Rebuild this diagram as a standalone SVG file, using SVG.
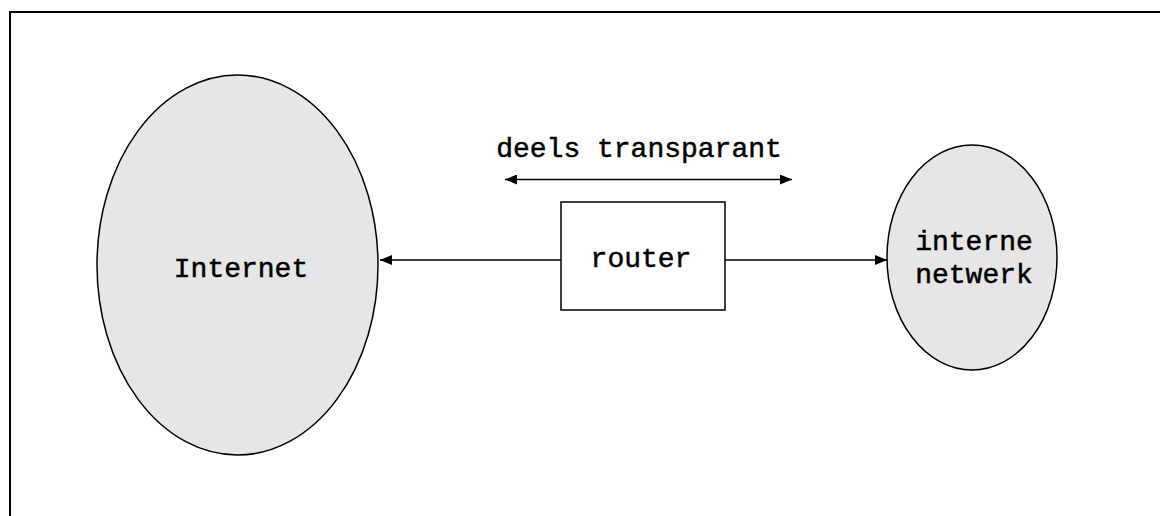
<svg xmlns="http://www.w3.org/2000/svg" width="1160" height="516" viewBox="0 0 1160 516">
<style>
.node{fill:#e6e6e6;stroke:#000;stroke-width:1.5}
.box{fill:#fff;stroke:#000;stroke-width:1.5}
.lbl{font-family:"Liberation Mono","Courier New",monospace;font-size:28px;fill:#000;text-anchor:middle;stroke:#000;stroke-width:0.5}
.edge{stroke:#000;stroke-width:1.5;fill:none}
</style>
<defs>
<marker id="ah" viewBox="0 0 12 10" refX="12" refY="5" markerWidth="12" markerHeight="10" markerUnits="userSpaceOnUse" orient="auto-start-reverse">
<path d="M0,0 L12,5 L0,10 Z" fill="#000"/>
</marker>
</defs>
<rect x="10" y="12" width="1200" height="560" fill="#fff" stroke="#000" stroke-width="2"/>
<g id="internet">
<ellipse class="node" cx="237.5" cy="265" rx="140.5" ry="190"/>
<text class="lbl" x="241" y="277">Internet</text>
</g>
<g id="interne-netwerk">
<ellipse class="node" cx="972" cy="257.5" rx="85" ry="112.5"/>
<text class="lbl" x="974" y="250">interne</text>
<text class="lbl" x="974" y="283">netwerk</text>
</g>
<g id="router">
<rect class="box" x="561" y="202" width="164" height="108"/>
<text class="lbl" x="641" y="267">router</text>
</g>
<g id="transparant-label">
<text class="lbl" x="639" y="157">deels transparant</text>
</g>
<g id="connectors">
<line class="edge" x1="561" y1="260" x2="380" y2="260" marker-end="url(#ah)"/>
<line class="edge" x1="725" y1="260" x2="887" y2="260" marker-end="url(#ah)"/>
<line class="edge" x1="505" y1="179.5" x2="792" y2="179.5" marker-start="url(#ah)" marker-end="url(#ah)"/>
</g>
</svg>
